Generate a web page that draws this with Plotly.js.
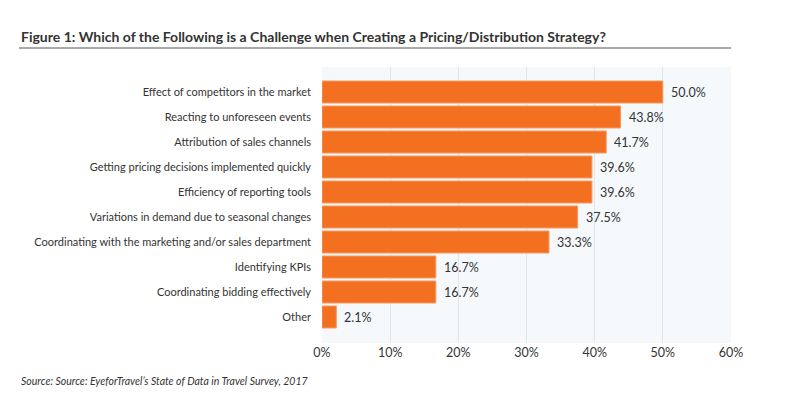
<!DOCTYPE html>
<html>
<head>
<meta charset="utf-8">
<script src="https://cdn.plot.ly/plotly-3.0.1.min.js"></script>
<style>html,body{margin:0;padding:0;background:#fff;}#chart{width:800px;height:410px;}</style>
</head>
<body>
<div id="chart"></div>
<script>
const categories = [
  "Effect of competitors in the market",
  "Reacting to unforeseen events",
  "Attribution of sales channels",
  "Getting pricing decisions implemented quickly",
  "Efficiency of reporting tools",
  "Variations in demand due to seasonal changes",
  "Coordinating with the marketing and/or sales department",
  "Identifying KPIs",
  "Coordinating bidding effectively",
  "Other"
];
const values = [50.0, 43.8, 41.7, 39.6, 39.6, 37.5, 33.3, 16.7, 16.7, 2.1];
const tickVals = [0, 10, 20, 30, 40, 50, 60];
const tickText = ["0%", "10%", "20%", "30%", "40%", "50%", "60%"];

const font = "Lato, 'Open Sans', sans-serif";

const trace = {
  type: "bar",
  orientation: "h",
  y: categories,
  x: values,
  marker: {color: "#f37021", line: {color: "#f79a63", width: 1}},
  hoverinfo: "none"
};

const labelAnnotations = values.map((v, i) => ({
  xref: "x", yref: "y", x: v, y: categories[i],
  xanchor: "left", yanchor: "middle", xshift: 6,
  text: v.toFixed(1) + "%", showarrow: false,
  font: {family: font, size: 12.5, color: "#333333"}
}));

const layout = {
  width: 800, height: 410,
  margin: {l: 322, r: 69, t: 67, b: 67, pad: 0},
  paper_bgcolor: "#ffffff",
  plot_bgcolor: "#f5f9fc",
  bargap: 0.12,
  showlegend: false,
  font: {family: font, color: "#333333"},
  xaxis: {
    range: [0, 60],
    tickvals: tickVals,
    ticktext: tickText,
    showgrid: true,
    gridcolor: "#e2e6ea",
    gridwidth: 1,
    zeroline: false,
    showline: false,
    ticks: "",
    tickfont: {family: font, size: 12.5, color: "#333333"},
    fixedrange: true
  },
  yaxis: {
    type: "category",
    categoryorder: "array",
    categoryarray: categories,
    range: [10.04, -1],
    showgrid: false,
    zeroline: false,
    showline: false,
    ticks: "",
    ticklabelstandoff: 10,
    tickfont: {family: font, size: 11, color: "#333333"},
    fixedrange: true
  },
  shapes: [
    {type: "line", xref: "paper", yref: "paper", x0: -303/409, x1: 1, y0: 1 + 19/276, y1: 1 + 19/276,
     line: {color: "#555555", width: 1}}
  ],
  annotations: [
    {xref: "paper", yref: "paper", x: -303/409, y: 1 + 30/276, xanchor: "left", yanchor: "middle",
     text: "<b>Figure 1: Which of the Following is a Challenge when Creating a Pricing/Distribution Strategy?</b>",
     showarrow: false, font: {family: font, size: 14, color: "#333333"}},
    {xref: "paper", yref: "paper", x: -303/409, y: -38/276, xanchor: "left", yanchor: "middle",
     text: "<i>Source: Source: EyeforTravel’s State of Data in Travel Survey, 2017</i>",
     showarrow: false, font: {family: font, size: 10.5, color: "#333333"}}
  ].concat(labelAnnotations)
};

Plotly.newPlot("chart", [trace], layout, {displayModeBar: false, staticPlot: true});
</script>
</body>
</html>
